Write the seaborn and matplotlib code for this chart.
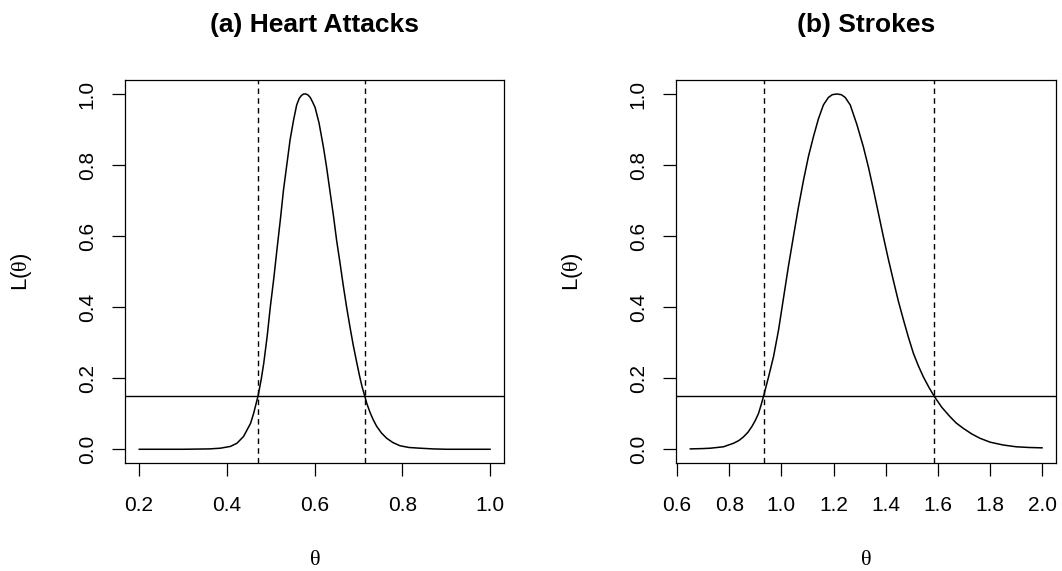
import pandas as pd
import seaborn as sns
import matplotlib.pyplot as plt

# values
heart_theta = [0.20, 0.30, 0.36, 0.385, 0.408, 0.423, 0.438, 0.454, 0.461, 0.471,
               0.478, 0.484, 0.492, 0.499, 0.507, 0.514, 0.522, 0.529, 0.537, 0.544,
               0.552, 0.559, 0.565, 0.570, 0.575, 0.580, 0.585, 0.590, 0.595, 0.601,
               0.610, 0.620, 0.627, 0.635, 0.643, 0.650, 0.658, 0.665, 0.673, 0.681,
               0.688, 0.696, 0.703, 0.708, 0.714, 0.719, 0.726, 0.733, 0.741, 0.752,
               0.764, 0.778, 0.794, 0.815, 0.840, 0.870, 0.900, 0.950, 1.00]
heart_lik = [0.0, 0.0, 0.001, 0.003, 0.008, 0.017, 0.036, 0.073, 0.101, 0.150,
             0.195, 0.242, 0.320, 0.401, 0.482, 0.561, 0.648, 0.730, 0.805, 0.871,
             0.927, 0.969, 0.988, 0.996, 1.000, 1.000, 0.997, 0.990, 0.978, 0.962,
             0.918, 0.850, 0.795, 0.725, 0.655, 0.588, 0.522, 0.462, 0.398, 0.340,
             0.292, 0.243, 0.202, 0.176, 0.150, 0.128, 0.104, 0.084, 0.065, 0.046,
             0.031, 0.019, 0.010, 0.005, 0.003, 0.001, 0.0, 0.0, 0.0]
heart_ci = [0.471, 0.714]

stroke_theta = [0.65, 0.70, 0.728, 0.778, 0.817, 0.838, 0.855, 0.872, 0.887, 0.900,
                0.9125, 0.922, 0.932, 0.951, 0.970, 0.989, 1.008, 1.027, 1.046, 1.065,
                1.085, 1.104, 1.123, 1.142, 1.161, 1.180, 1.195, 1.2125, 1.230, 1.245,
                1.264, 1.289, 1.314, 1.334, 1.353, 1.372, 1.391, 1.410, 1.429, 1.448,
                1.468, 1.487, 1.506, 1.525, 1.544, 1.565, 1.585, 1.615, 1.646, 1.670,
                1.697, 1.730, 1.761, 1.80, 1.850, 1.90, 1.95, 2.00]
stroke_lik = [0.001, 0.002, 0.003, 0.007, 0.017, 0.025, 0.035, 0.048, 0.064, 0.081,
              0.101, 0.124, 0.150, 0.204, 0.261, 0.335, 0.425, 0.515, 0.598, 0.680,
              0.758, 0.825, 0.880, 0.930, 0.969, 0.990, 0.998, 1.000, 0.998, 0.990,
              0.969, 0.915, 0.852, 0.793, 0.730, 0.664, 0.598, 0.535, 0.476, 0.418,
              0.364, 0.315, 0.270, 0.235, 0.204, 0.175, 0.150, 0.118, 0.092, 0.074,
              0.059, 0.043, 0.031, 0.020, 0.012, 0.007, 0.005, 0.004]
stroke_ci = [0.932, 1.585]

cutoff = 0.15
titles = ["(a) Heart Attacks", "(b) Strokes"]
heart_ticks = [0.2, 0.4, 0.6, 0.8, 1.0]
stroke_ticks = [0.6, 0.8, 1.0, 1.2, 1.4, 1.6, 1.8, 2.0]
y_ticks = [0.0, 0.2, 0.4, 0.6, 0.8, 1.0]

sns.set_style("ticks")
plt.rcParams['font.family'] = ['Liberation Sans', 'DejaVu Sans']
plt.rcParams['mathtext.fontset'] = 'custom'
plt.rcParams['mathtext.rm'] = 'Liberation Serif'
plt.rcParams['mathtext.it'] = 'Liberation Serif:italic'
for k in ['text.color', 'axes.labelcolor', 'xtick.color', 'ytick.color', 'axes.edgecolor']:
    plt.rcParams[k] = 'black'

fig = plt.figure(figsize=(10.62, 5.71), dpi=100)
ax1 = fig.add_axes([0.1177, 0.1883, 0.3572, 0.672])
ax2 = fig.add_axes([0.6365, 0.1883, 0.3582, 0.672])

panels = [
    (ax1, heart_theta, heart_lik, heart_ci, heart_ticks, titles[0]),
    (ax2, stroke_theta, stroke_lik, stroke_ci, stroke_ticks, titles[1]),
]

for ax, th, lk, ci, xt, title in panels:
    df = pd.DataFrame({"theta": th, "L": lk})
    sns.lineplot(data=df, x="theta", y="L", ax=ax, color="black", lw=1.1,
                 sort=False, estimator=None)
    ax.axhline(cutoff, color="black", lw=1.0)
    for c in ci:
        ax.axvline(c, color="black", lw=1.0, dashes=(4, 3))
    pad = 0.04 * (th[-1] - th[0])
    ax.set_xlim(th[0] - pad, th[-1] + pad)
    ax.set_ylim(-0.04, 1.04)
    ax.set_xticks(xt)
    ax.set_xticklabels(["%.1f" % v for v in xt])
    ax.set_yticks(y_ticks)
    ax.set_yticklabels(["%.1f" % v for v in y_ticks], rotation=90, va="center")
    ax.tick_params(axis="both", length=9.4, width=0.9, color="black",
                   labelsize=15, pad=11)
    ax.tick_params(axis="x", pad=14)
    for s in ax.spines.values():
        s.set_visible(True)
        s.set_color("black")
        s.set_linewidth(0.9)
    ax.set_xlabel(r"$\mathrm{\theta}$", fontsize=16, va="center")
    ax.set_ylabel(r"L($\mathrm{\theta}$)", fontsize=16, va="center")
    ax.xaxis.set_label_coords(0.5, -0.2515)
    ax.yaxis.set_label_coords(-0.272, 0.5)
    ax.text(0.5, 1.143, title, transform=ax.transAxes, ha="center", va="center",
            fontsize=19, fontweight="bold")

fig.savefig("out.png", dpi=100)
